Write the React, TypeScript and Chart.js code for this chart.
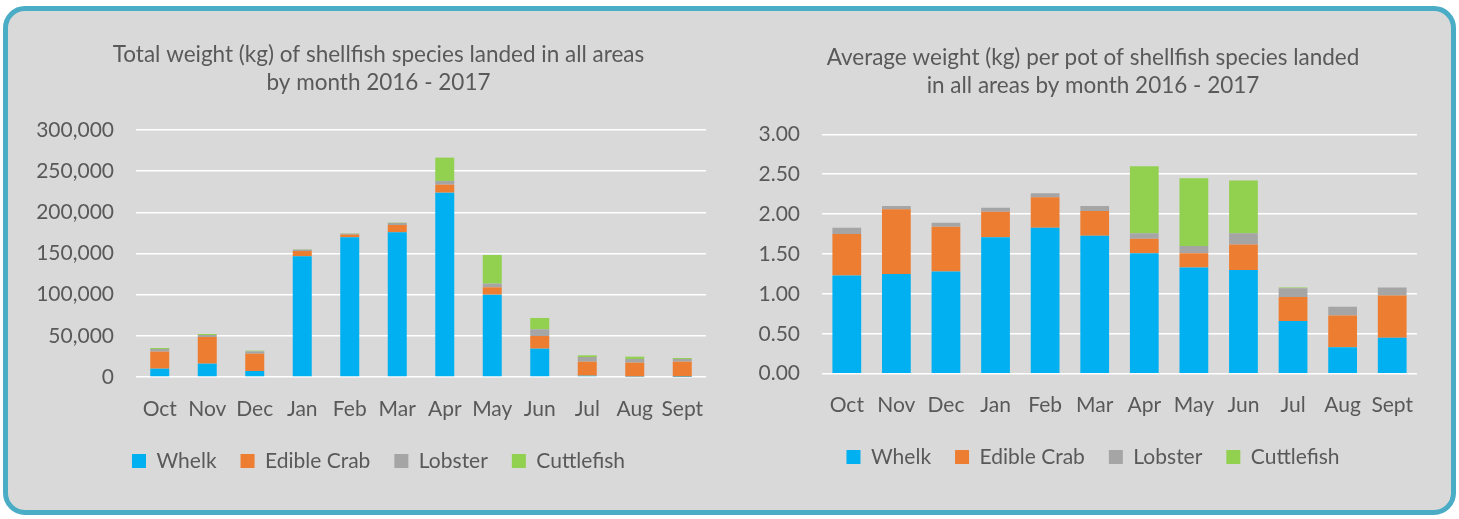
import React, { useEffect, useRef } from 'react';
import { Chart, registerables } from 'chart.js';

Chart.register(...registerables);

const months = ['Oct', 'Nov', 'Dec', 'Jan', 'Feb', 'Mar', 'Apr', 'May', 'Jun', 'Jul', 'Aug', 'Sept'];
const seriesNames = ['Whelk', 'Edible Crab', 'Lobster', 'Cuttlefish'];
const seriesColors = ['#00B0F0', '#ED7D31', '#A5A5A5', '#92D050'];

// Total weight (kg) by month
const whelkKg = [10100, 16200, 7300, 146600, 169700, 175700, 223900, 100000, 34400, 1600, 500, 300];
const crabKg = [20700, 32400, 21000, 6400, 3200, 8900, 9700, 8900, 15400, 17000, 16900, 18300];
const lobsterKg = [3200, 2400, 2900, 1700, 1200, 2500, 4500, 4500, 8100, 5700, 4500, 3300];
const cuttleKg = [1200, 1200, 800, 400, 400, 400, 28300, 34800, 13800, 2000, 2800, 1200];

// Average weight (kg) per pot by month
const whelkPot = [1.23, 1.25, 1.28, 1.71, 1.83, 1.73, 1.51, 1.33, 1.30, 0.66, 0.33, 0.45];
const crabPot = [0.52, 0.81, 0.56, 0.32, 0.38, 0.31, 0.18, 0.18, 0.32, 0.30, 0.40, 0.53];
const lobsterPot = [0.08, 0.04, 0.05, 0.05, 0.05, 0.06, 0.07, 0.09, 0.14, 0.11, 0.11, 0.10];
const cuttlePot = [0, 0, 0, 0, 0, 0, 0.84, 0.85, 0.66, 0.01, 0, 0];

const leftTitle = ['Total weight (kg) of shellfish species landed in all areas', 'by month 2016 - 2017'];
const rightTitle = ['Average weight (kg) per pot of shellfish species landed', 'in all areas by month 2016 - 2017'];

const FONT = 'Lato, "Noto Sans", sans-serif';
const TEXT = '#595959';

function buildConfig(opts: {
  title: string[];
  series: number[][];
  barPct: number;
  yMax: number;
  yStep: number;
  fmt: (v: number) => string;
  axisWidth: number;
  rightSpace: number;
  padBottom: number;
  titleTop: number;
  titleBottom: number;
  xPad: number;
  xHeight: number;
}): any {
  return {
    type: 'bar',
    data: {
      labels: months,
      datasets: opts.series.map((d, i) => ({
        label: seriesNames[i],
        data: d,
        backgroundColor: seriesColors[i],
        borderWidth: 0,
        barPercentage: opts.barPct,
        categoryPercentage: 1,
        yAxisID: 'y',
      })),
    },
    options: {
      animation: false,
      responsive: false,
      maintainAspectRatio: false,
      layout: { padding: { left: 0, right: 0, top: 0, bottom: opts.padBottom } },
      plugins: {
        tooltip: { enabled: false },
        title: {
          display: true,
          text: opts.title,
          color: TEXT,
          font: { family: FONT, size: 22.5, weight: 'normal', lineHeight: 1.244 },
          padding: { top: opts.titleTop, bottom: opts.titleBottom },
        },
        legend: {
          position: 'bottom',
          labels: {
            color: TEXT,
            font: { family: FONT, size: 21 },
            boxWidth: 14,
            boxHeight: 14,
            padding: 24,
          },
        },
      },
      scales: {
        x: {
          stacked: true,
          grid: { display: false, drawTicks: false },
          border: { display: false },
          afterFit: (scale: any) => {
            scale.height = opts.xHeight;
          },
          ticks: { color: TEXT, font: { family: FONT, size: 21 }, padding: opts.xPad, maxRotation: 0, autoSkip: false },
        },
        y: {
          stacked: true,
          position: 'left',
          min: 0,
          max: opts.yMax,
          grid: { color: '#FFFFFF', lineWidth: 1.5, drawTicks: false },
          border: { display: false },
          afterFit: (scale: any) => {
            scale.width = opts.axisWidth;
          },
          ticks: {
            stepSize: opts.yStep,
            color: TEXT,
            font: { family: FONT, size: 21 },
            padding: 22,
            callback: (v: any) => opts.fmt(Number(v)),
          },
        },
        spacer: {
          type: 'linear',
          position: 'right',
          display: true,
          min: 0,
          max: 1,
          grid: { display: false, drawTicks: false },
          border: { display: false },
          ticks: { display: false },
          afterFit: (scale: any) => {
            scale.width = opts.rightSpace;
          },
        },
      },
    },
  };
}

function ChartCanvas({ config, left, top, width, height }: { config: any; left: number; top: number; width: number; height: number }) {
  const ref = useRef<HTMLCanvasElement | null>(null);
  useEffect(() => {
    if (!ref.current) return;
    const chart = new Chart(ref.current, config);
    return () => chart.destroy();
  }, []);
  return (
    <canvas
      ref={ref}
      width={width}
      height={height}
      style={{ position: 'absolute', left, top, width, height }}
    />
  );
}

export default function App() {
  const leftConfig = buildConfig({
    title: leftTitle,
    series: [whelkKg, crabKg, lobsterKg, cuttleKg],
    barPct: 0.4,
    yMax: 300000,
    yStep: 50000,
    fmt: (v) => v.toLocaleString('en-US'),
    axisWidth: 114,
    rightSpace: 29,
    padBottom: 18.5,
    titleTop: 11,
    titleBottom: 33,
    xPad: 20,
    xHeight: 49.5,
  });
  const rightConfig = buildConfig({
    title: rightTitle,
    series: [whelkPot, crabPot, lobsterPot, cuttlePot],
    barPct: 0.58,
    yMax: 3,
    yStep: 0.5,
    fmt: (v) => v.toFixed(2),
    axisWidth: 82,
    rightSpace: 29,
    padBottom: 22.5,
    titleTop: 14,
    titleBottom: 34.3,
    xPad: 19,
    xHeight: 48.8,
  });
  return (
    <div style={{ position: 'fixed', left: 0, top: 0, width: 1459, height: 519, background: '#FFFFFF', overflow: 'hidden' }}>
      <div
        style={{
          position: 'absolute',
          left: 3,
          top: 6,
          width: 1453,
          height: 509,
          boxSizing: 'border-box',
          border: '5px solid #4BACC6',
          borderRadius: 22,
          background: '#D9D9D9',
        }}
      />
      <ChartCanvas config={leftConfig} left={22} top={30} width={713} height={470} />
      <ChartCanvas config={rightConfig} left={740} top={30} width={706} height={470} />
    </div>
  );
}
